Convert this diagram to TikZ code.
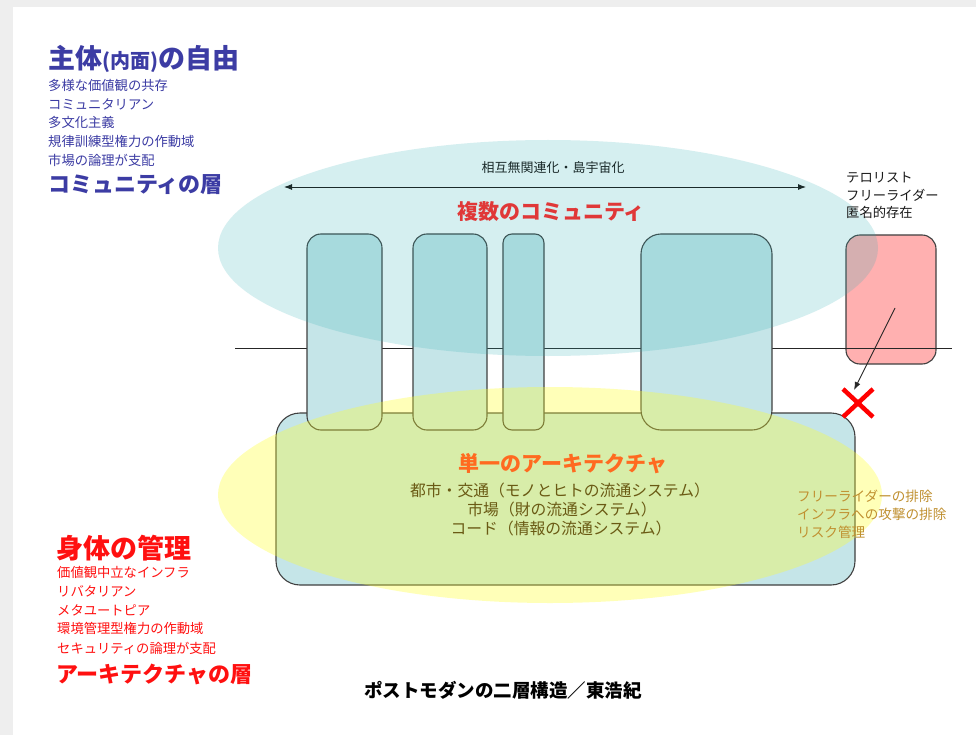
\documentclass[tikz,border=0pt]{standalone}
\usepackage{fontspec}
\setmainfont{Noto Sans CJK JP}
\usetikzlibrary{arrows.meta,calc}
\definecolor{bluetxt}{HTML}{3C3CA4}
\definecolor{redtxt}{HTML}{FF1010}
\definecolor{comred}{HTML}{E03838}
\definecolor{archorange}{HTML}{FF6A20}
\definecolor{olivetxt}{HTML}{6A5A14}
\definecolor{goldtxt}{HTML}{C09030}
\definecolor{darktxt}{HTML}{1A2A2A}
\definecolor{colfill}{HTML}{C5E5E8}
\definecolor{ellcyan}{HTML}{31AFB4}
\definecolor{ellyellow}{HTML}{FFFF2A}
\definecolor{redfill}{HTML}{FFB0B0}
\definecolor{outline}{HTML}{404040}
\definecolor{bggrey}{HTML}{EEEEEE}
\tikzset{
  colbox/.style={draw=outline, line width=1.1pt, fill=colfill, rounded corners=14pt, inner sep=0pt},
  txt/.style={inner sep=0pt, anchor=west},
  ctxt/.style={inner sep=0pt, anchor=center},
  small/.style={font=\fontsize{13.3}{15}\selectfont},
}
\begin{document}
\begin{tikzpicture}[x=1pt,y=-1pt]
\useasboundingbox (0,0) rectangle (976,735);
% page background
\fill[bggrey] (0,0) rectangle (976,735);
\fill[white] (13,7) rectangle (976,735);

% large architecture box
\node[colbox, rounded corners=24pt, minimum width=579pt, minimum height=172pt] (arch) at (565.5,499) {};
% red box
\node[draw=outline, line width=1.1pt, fill=redfill, rounded corners=14pt, inner sep=0pt,
      minimum width=90pt, minimum height=129pt] (red) at (891,299.5) {};
% horizontal separator
\coordinate (hl) at (235,348);
\coordinate (hr) at (952,348);
\draw[line width=0.9pt, black!85] (hl) -- (hr);
% community columns
\node[colbox, minimum width=75pt, minimum height=196pt] (c1) at (344.5,332) {};
\node[colbox, minimum width=74pt, minimum height=196pt] (c2) at (450,332) {};
\node[colbox, rounded corners=9pt, minimum width=41pt, minimum height=196pt] (c3) at (523.5,332) {};
\node[colbox, rounded corners=20pt, minimum width=131pt, minimum height=196pt] (c4) at (706.5,332) {};

% translucent ellipses
\fill[ellcyan, opacity=0.2] (548,248) ellipse [x radius=330pt, y radius=108pt];
\fill[ellyellow, opacity=0.33] (550,495) ellipse [x radius=332pt, y radius=108pt];

% double arrow
\coordinate (aL) at (284,187);
\coordinate (aR) at (806,187);
\draw[darktxt, line width=0.9pt, {Latex[length=8pt,width=6pt]}-{Latex[length=8pt,width=6pt]}] (aL) -- (aR);
\node[ctxt, darktxt, font=\fontsize{13}{15}\selectfont] (iso) at (553,168) {相互無関連化・島宇宙化};
\node[ctxt, comred, font=\fontsize{21}{25}\selectfont\bfseries] (multi) at (551,212) {複数のコミュニティ};

% terrorist labels
\node[txt, black!90, small] (t1) at (846,178) {テロリスト};
\node[txt, black!90, small] (t2) at (846,195) {フリーライダー};
\node[txt, black!90, small] (t3) at (846,212) {匿名的存在};

% arrow to the cross
\coordinate (xs) at (895,308);
\coordinate (xc) at (858,403);
\coordinate (xe) at (854,390);
\coordinate (x1) at ($(xc)+(-15,-14)$);
\coordinate (x2) at ($(xc)+(15,14)$);
\coordinate (x3) at ($(xc)+(15,-14)$);
\coordinate (x4) at ($(xc)+(-15,14)$);
\draw[black!85, line width=0.9pt, -{Latex[length=8pt,width=6pt]}] (xs) -- (xe);
\draw[red, line width=4.5pt] (x1) -- (x2);
\draw[red, line width=4.5pt] (x3) -- (x4);

% architecture texts
\node[ctxt, archorange, font=\fontsize{21}{25}\selectfont\bfseries] (single) at (563,464) {単一のアーキテクチャ};
\node[ctxt, olivetxt, font=\fontsize{15.8}{18}\selectfont] (l1) at (560,490) {都市・交通（モノとヒトの流通システム）};
\node[ctxt, olivetxt, font=\fontsize{15.8}{18}\selectfont] (l2) at (562,509) {市場（財の流通システム）};
\node[ctxt, olivetxt, font=\fontsize{15.8}{18}\selectfont] (l3) at (561,528) {コード（情報の流通システム）};

% right gold texts
\node[txt, goldtxt, font=\fontsize{13.6}{16}\selectfont] (g1) at (797,496) {フリーライダーの排除};
\node[txt, goldtxt, font=\fontsize{13.6}{16}\selectfont] (g2) at (797,514) {インフラへの攻撃の排除};
\node[txt, goldtxt, font=\fontsize{13.6}{16}\selectfont] (g3) at (797,532) {リスク管理};

% top-left (blue)
\node[txt, bluetxt, font=\fontsize{27}{30}\selectfont\bfseries] (bt) at (48,59) {主体{\fontsize{20}{22}\selectfont (内面)}の自由};
\node[txt, bluetxt, small] (b1) at (48,85) {多様な価値観の共存};
\node[txt, bluetxt, small] (b2) at (48,104) {コミュニタリアン};
\node[txt, bluetxt, small] (b3) at (48,122) {多文化主義};
\node[txt, bluetxt, small] (b4) at (48,141) {規律訓練型権力の作動域};
\node[txt, bluetxt, small] (b5) at (48,160) {市場の論理が支配};
\node[txt, bluetxt, font=\fontsize{22}{25}\selectfont\bfseries] (bb) at (48,185) {コミュニティの層};

% bottom-left (red)
\node[txt, redtxt, font=\fontsize{27}{30}\selectfont\bfseries] (rt) at (56,548) {身体の管理};
\node[txt, redtxt, small] (r1) at (57,572) {価値観中立なインフラ};
\node[txt, redtxt, small] (r2) at (57,591) {リバタリアン};
\node[txt, redtxt, small] (r3) at (57,610) {メタユートピア};
\node[txt, redtxt, small] (r4) at (57,628) {環境管理型権力の作動域};
\node[txt, redtxt, small] (r5) at (57,648) {セキュリティの論理が支配};
\node[txt, redtxt, font=\fontsize{22}{25}\selectfont\bfseries] (rb) at (56,674) {アーキテクチャの層};

% caption
\node[ctxt, black, font=\fontsize{18.5}{21}\selectfont\bfseries] (cap) at (503,690) {ポストモダンの二層構造／東浩紀};
\end{tikzpicture}
\end{document}
